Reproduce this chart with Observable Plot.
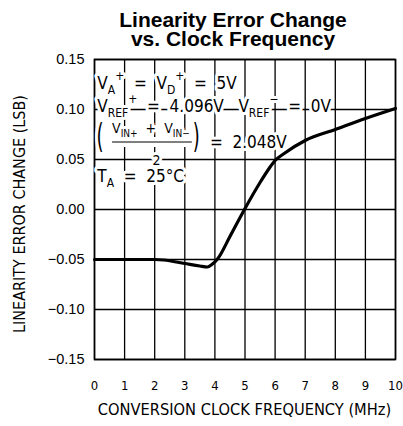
<!DOCTYPE html>
<html><head><meta charset="utf-8">
<script src="https://cdn.jsdelivr.net/npm/d3@7"></script>
<script src="https://cdn.jsdelivr.net/npm/@observablehq/plot@0.6"></script>
<style>
body{margin:0;background:#fff;}
#title{font-family:"Liberation Sans",Arial,sans-serif;font-weight:bold;font-size:21px;line-height:19px;text-align:center;width:403px;height:52px;padding-top:10px;padding-left:63px;box-sizing:border-box;color:#000;}
#chart{position:relative;width:403px;height:374px;}
#chart svg{display:block;}
#overlay{position:absolute;left:0;top:0;}
</style>
</head><body>
<div id="title">Linearity Error Change<br>vs. Clock Frequency</div>
<div id="chart"></div>
<script>
// ---- data ----
const freqMHz = [0, 1, 2, 2.3, 3, 3.5, 3.75, 3.9, 4.1, 4.5, 5, 5.5, 5.8, 6, 6.3, 7, 8, 9, 10];
const errLSB  = [-0.05, -0.05, -0.05, -0.0505, -0.054, -0.0565, -0.0575, -0.055, -0.049, -0.027, 0.001, 0.027, 0.041, 0.049, 0.056, 0.069, 0.080, 0.091, 0.101];
const xTicks = [0, 1, 2, 3, 4, 5, 6, 7, 8, 9, 10];
const yTicks = [-0.15, -0.10, -0.05, 0.00, 0.05, 0.10, 0.15];
const xLabel = "CONVERSION CLOCK FREQUENCY (MHz)";
const yLabel = "LINEARITY ERROR CHANGE (LSB)";
const annLine1 = [["V",""],["A","sub"],["+","sup"],["  =  ",""],["V",""],["D","sub"],["+","sup"],["  =  5V",""]];
const annLine2 = [["V",""],["REF","sub"],["+","sup"],["  =  4.096V   ",""],["V",""],["REF","sub"],["\u2212","sup"],["  =  0V",""]];
const annNumer = [["V",""],["IN+","sub"],["  +  ",""],["V",""],["IN\u2212","sub"]];
const annDenom = "2";
const annResult = "=  2.048V";
const annLine4 = [["T",""],["A","sub"],["  =  25\u00B0C",""]];

const rows = freqMHz.map((f, i) => ({f, e: errLSB[i]}));
const annFont = '"DejaVu Sans Condensed","DejaVu Sans",sans-serif';

const plot = Plot.plot({
  width: 403, height: 374,
  marginTop: 7, marginBottom: 67, marginLeft: 94, marginRight: 8,
  x: {domain: [0, 10]},
  y: {domain: [-0.15, 0.15]},
  style: {background: "#fff", color: "#000"},
  marks: [
    Plot.ruleX(xTicks, {stroke: "#000", strokeWidth: 1.3}),
    Plot.ruleY(yTicks, {stroke: "#000", strokeWidth: 1.3}),
    Plot.frame({stroke: "#000", strokeWidth: 1.6}),
    Plot.axisY(yTicks, {tickSize: 0, tickPadding: 10, tickFormat: d3.format(".2f"), fontSize: 14.5, fontFamily: '"Liberation Sans",Arial,sans-serif', label: null}),
    Plot.axisX(xTicks, {tickSize: 0, tickPadding: 21, tickFormat: d3.format("d"), fontSize: 13, fontFamily: annFont, label: null}),
    Plot.line(rows, {x: "f", y: "e", curve: "monotone-x", stroke: "#000", strokeWidth: 3.2})
  ]
});
const chart = document.getElementById("chart");
chart.appendChild(plot);

// ---- overlay: annotation and axis titles, positioned through the plot's scales ----
const sx = plot.scale("x"), sy = plot.scale("y");
const NS = "http://www.w3.org/2000/svg";
function el(parent, tag, attrs, txt) {
  const e = document.createElementNS(NS, tag);
  for (const k in attrs) e.setAttribute(k, attrs[k]);
  if (txt != null) e.textContent = txt;
  parent.appendChild(e);
  return e;
}
const over = el(chart, "svg", {id: "overlay", width: 403, height: 374, viewBox: "0 0 403 374"});
over.style.pointerEvents = "none";

el(over, "text", {"font-family": annFont, "font-size": 16.3, "text-anchor": "middle", fill: "#000",
  x: (sx.apply(0) + sx.apply(10)) / 2, y: sy.apply(-0.15) + 56}, xLabel);
el(over, "text", {"font-family": annFont, "font-size": 16, "text-anchor": "middle", fill: "#000",
  transform: `translate(${sx.apply(0) - 69},${sy.apply(0) + 5}) rotate(-90)`}, yLabel);

const ann = el(over, "g", {"font-family": annFont, fill: "#000", "text-anchor": "start",
  stroke: "#fff", "stroke-width": 6, "stroke-linejoin": "round", "paint-order": "stroke"});

function richText(parts, xv, yv, size, small) {
  const t = el(ann, "text", {x: sx.apply(xv), y: sy.apply(yv), "font-size": size, "text-anchor": "start"});
  t.style.whiteSpace = "pre";
  let cur = 0;
  for (const [s, role] of parts) {
    const target = role === "sub" ? size * 0.3 : role === "sup" ? -size * 0.55 : 0;
    el(t, "tspan", {dy: target - cur, "font-size": role ? small : size}, s);
    cur = target;
  }
  return t;
}
function plain(s, xv, yv, size, anchor, stretchY) {
  const y = sy.apply(yv);
  const attrs = {x: sx.apply(xv), y, "font-size": size, "text-anchor": anchor || "start"};
  if (stretchY) attrs.transform = `translate(0,${y}) scale(1,${stretchY}) translate(0,${-y})`;
  const t = el(ann, "text", attrs, s);
  t.style.whiteSpace = "pre";
  return t;
}

richText(annLine1, 0.11, 0.120, 17, 12);
richText(annLine2, 0.11, 0.097, 17, 12);
plain("(", 0.08, 0.061, 20, "start", 1.7);
richText(annNumer, 0.6, 0.076, 14, 10);
el(ann, "line", {x1: sx.apply(0.45), x2: sx.apply(3.35), y1: sy.apply(0.067), y2: sy.apply(0.067), stroke: "#fff", "stroke-width": 10});
el(ann, "line", {x1: sx.apply(0.6), x2: sx.apply(3.25), y1: sy.apply(0.067), y2: sy.apply(0.067), stroke: "#000", "stroke-width": 1.2});
plain(annDenom, 2.08, 0.044, 14, "middle");
plain(")", 3.28, 0.061, 20, "start", 1.7);
plain(annResult, 3.85, 0.061, 17);
richText(annLine4, 0.11, 0.027, 17, 12);
</script>
</body></html>
